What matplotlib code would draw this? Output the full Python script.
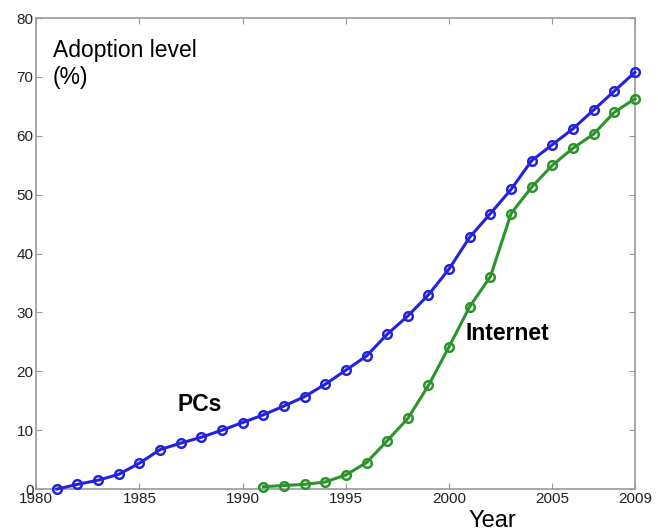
import matplotlib
matplotlib.use("Agg")
import matplotlib.pyplot as plt

plt.rcParams['font.family'] = ['Liberation Sans', 'DejaVu Sans']

pc_years = list(range(1981, 2010))
pc_values = [0.0, 0.8, 1.5, 2.5, 4.4, 6.7, 7.8, 8.8, 10.0, 11.3, 12.6, 14.1, 15.7, 17.8,
             20.2, 22.6, 26.3, 29.4, 33.0, 37.4, 42.8, 46.8, 50.9, 55.8, 58.5, 61.2, 64.4, 67.6, 70.8]
net_years = list(range(1991, 2010))
net_values = [0.4, 0.6, 0.8, 1.2, 2.4, 4.5, 8.2, 12.0, 17.6, 24.2, 31.0, 36.1, 46.8, 51.3,
              55.0, 57.9, 60.3, 64.0, 66.3]
x_ticks = [1980, 1985, 1990, 1995, 2000, 2005, 2009]
y_ticks = [0, 10, 20, 30, 40, 50, 60, 70, 80]

fig = plt.figure(figsize=(6.58, 5.31), dpi=100)
ax = fig.add_axes([0.055, 0.079, 0.91, 0.887])

blue = '#2323dd'
green = '#2a952a'
ax.plot(pc_years, pc_values, '-o', color=blue, lw=2.2, ms=6.2, mfc='none', mew=1.8, clip_on=False, zorder=3)
ax.plot(net_years, net_values, '-o', color=green, lw=2.2, ms=6.2, mfc='none', mew=1.8, clip_on=False, zorder=3)

ax.set_xlim(1980, 2009)
ax.set_ylim(0, 80)
ax.set_xticks(x_ticks)
ax.set_yticks(y_ticks)
for s in ax.spines.values():
    s.set_color('#999999')
    s.set_linewidth(1.2)
ax.tick_params(direction='in', length=4, color='#999999', top=True, right=True,
               labelsize=11, labelcolor='#222222', pad=2)

ax.text(0.028, 0.955, 'Adoption level\n(%)', transform=ax.transAxes, fontsize=16.5,
        va='top', ha='left', linespacing=1.2)
ax.text(1987.9, 14.3, 'PCs', fontsize=16.5, fontweight='bold', ha='center', va='center')
ax.text(2000.8, 26.4, 'Internet', fontsize=16.5, fontweight='bold', ha='left', va='center')
fig.text(492/658, 1 - 521/531, 'Year', fontsize=17, ha='center', va='center')

fig.savefig('out.png', dpi=100)
